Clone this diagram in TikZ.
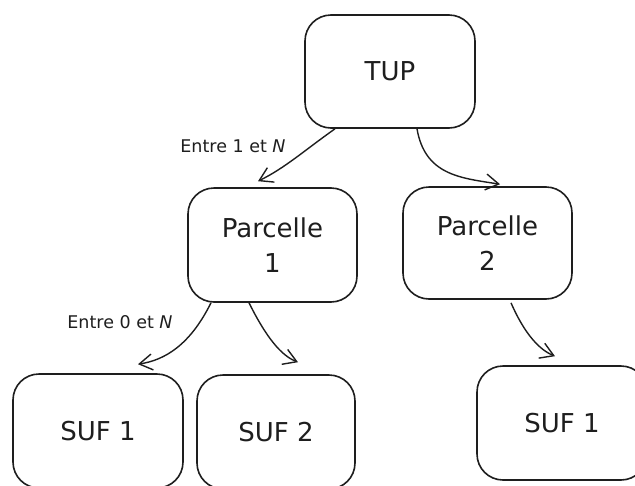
\documentclass[tikz,border=0pt]{standalone}
\usepackage{fontspec}
\setmainfont{DejaVu Sans}
\usetikzlibrary{arrows.meta}
\definecolor{ink}{HTML}{1E1E1E}
\tikzset{
  box/.style={draw=ink, line width=1.6pt, rounded corners=26pt, align=center, text=ink,
    font=\fontsize{26}{35}\selectfont, inner sep=0pt},
  lbl/.style={text=ink, font=\fontsize{17.5}{20}\selectfont, inner sep=0pt},
  arr/.style={draw=ink, line width=1.4pt, -{Straight Barb[length=13pt,width=16pt,line width=1.4pt]}}
}
\begin{document}
\begin{tikzpicture}[x=1pt,y=-1pt]
\useasboundingbox (0,0) rectangle (635,485);
\clip (0,0) rectangle (635,485);
\node[box, minimum width=170pt, minimum height=113pt] (tup) at (390,71.5) {TUP};
\node[box, minimum width=169pt, minimum height=114pt] (p1) at (272.5,245) {Parcelle\\1};
\node[box, minimum width=169pt, minimum height=112pt] (p2) at (487.5,243) {Parcelle\\2};
\node[box, minimum width=170pt, minimum height=114pt] (s1) at (98,431) {SUF 1};
\node[box, minimum width=158pt, minimum height=114pt] (s2) at (276,432) {SUF 2};
\node[box, minimum width=170pt, minimum height=114pt] (s3) at (562,423) {SUF 1};
\node[lbl] (l1) at (233,146) {Entre 1 et \textit{N}};
\node[lbl] (l2) at (120,322) {Entre 0 et \textit{N}};
\draw[arr] ([xshift=-55pt]tup.south) .. controls (305,150) and (285,168) .. ([xshift=-14.5pt,yshift=6pt]p1.north);
\draw[arr] ([xshift=27pt]tup.south) .. controls (425,175) and (460,178) .. ([xshift=12.5pt,yshift=2pt]p2.north);
\draw[arr] ([xshift=-61.5pt]p1.south) .. controls (190,345) and (165,360) .. ([xshift=40pt,yshift=9pt]s1.north);
\draw[arr] ([xshift=-23.5pt]p1.south) .. controls (270,345) and (285,357) .. ([xshift=22pt,yshift=12pt]s2.north);
\draw[arr] ([xshift=23.5pt,yshift=-3pt]p2.south) .. controls (525,335) and (540,350) .. ([xshift=-7pt,yshift=9pt]s3.north);
\end{tikzpicture}
\end{document}
